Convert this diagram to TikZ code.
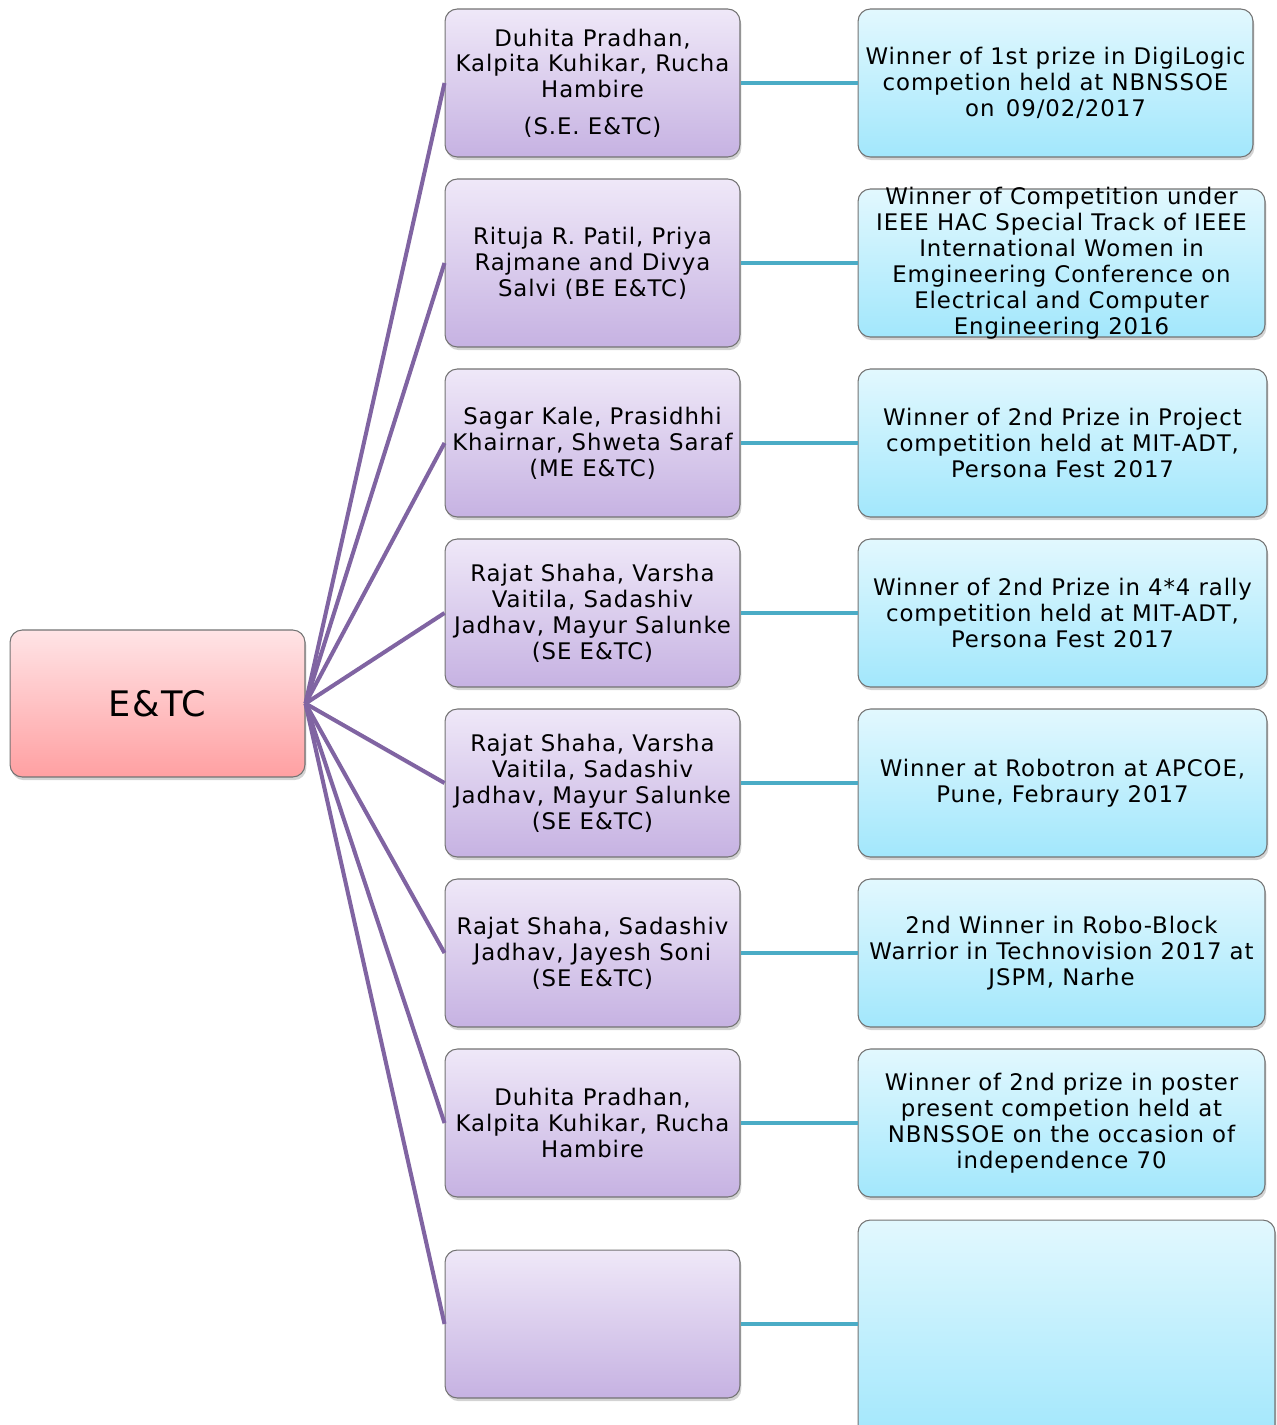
\documentclass[tikz,border=0pt]{standalone}
\usepackage{fontspec}
\setmainfont{DejaVu Sans}[LetterSpace=4]
\usetikzlibrary{positioning,shadows}
\definecolor{purpline}{HTML}{8064A2}
\definecolor{tealline}{HTML}{4BACC6}
\definecolor{whotop}{HTML}{EFE8F8}
\definecolor{whobot}{HTML}{C6B2E2}
\definecolor{wintop}{HTML}{E2F8FE}
\definecolor{winbot}{HTML}{A2E7FC}
\definecolor{roottop}{HTML}{FFE4E6}
\definecolor{rootbot}{HTML}{FFA0A2}
\tikzset{
  box/.style={draw=black!55, line width=0.6pt, rounded corners=7pt, align=center,
    inner sep=1pt, font=\fontsize{13}{14.75}\selectfont,
    drop shadow={opacity=0.35, shadow xshift=0.8pt, shadow yshift=-1.8pt}},
  who/.style={box, top color=whotop, bottom color=whobot, minimum width=5.9cm, minimum height=2.96cm},
  win/.style={box, top color=wintop, bottom color=winbot, minimum width=8.18cm, minimum height=2.96cm},
  purp/.style={purpline, line width=2.3pt},
  teal/.style={tealline, line width=2.8pt}
}
\newcommand{\who}[4][]{\node [who,#1] (#2) at (#3) {#4}}
\newcommand{\win}[4][]{\node [win,#1] (#2) at (#3) {#4}}

\begin{document}
\begin{tikzpicture}[x=0.02cm,y=-0.02cm]
\useasboundingbox (0,0) rectangle (1276,1425);

\node [box, top color=roottop, bottom color=rootbot, minimum width=5.9cm, minimum height=2.94cm,
  font=\fontsize{20}{24}\selectfont] (root) at (157.5,703.5) {E\&TC};

\who{m1}{592.5,83}{Duhita Pradhan,\\Kalpita Kuhikar, Rucha\\Hambire\\[6pt](S.E. E\&TC)};
\who[minimum height=3.36cm]{m2}{592.5,263}{Rituja R. Patil, Priya\\Rajmane and Divya\\Salvi (BE E\&TC)};
\who{m3}{592.5,443}{Sagar Kale, Prasidhhi\\Khairnar, Shweta Saraf\\(ME E\&TC)};
\who{m4}{592.5,613}{Rajat Shaha, Varsha\\Vaitila, Sadashiv\\Jadhav, Mayur Salunke\\(SE E\&TC)};
\who{m5}{592.5,783}{Rajat Shaha, Varsha\\Vaitila, Sadashiv\\Jadhav, Mayur Salunke\\(SE E\&TC)};
\who{m6}{592.5,953}{Rajat Shaha, Sadashiv\\Jadhav, Jayesh Soni\\(SE E\&TC)};
\who{m7}{592.5,1123}{Duhita Pradhan,\\Kalpita Kuhikar, Rucha\\Hambire};
\who{m8}{592.5,1324}{};

\win[minimum width=7.9cm]{r1}{1055.5,83}{Winner of 1st prize in DigiLogic\\competion held at NBNSSOE\\on\enspace 09/02/2017};
\win[minimum width=8.14cm, inner ysep=-3pt]{r2}{1061.5,263}{Winner of Competition under\\IEEE HAC Special Track of IEEE\\International Women in\\Emgineering Conference on\\Electrical and Computer\\Engineering 2016};
\win{r3}{1062.5,443}{Winner of 2nd Prize in Project\\competition held at MIT-ADT,\\Persona Fest 2017};
\win{r4}{1062.5,613}{Winner of 2nd Prize in 4*4 rally\\competition held at MIT-ADT,\\Persona Fest 2017};
\win{r5}{1062.5,783}{Winner at Robotron at APCOE,\\Pune, Febraury 2017};
\win[minimum width=8.14cm]{r6}{1061.5,953}{2nd Winner in Robo-Block\\Warrior in Technovision 2017 at\\JSPM, Narhe};
\win[minimum width=8.14cm]{r7}{1061.5,1123}{Winner of 2nd prize in poster\\present competion held at\\NBNSSOE on the occasion of\\independence 70};
\win[minimum width=8.34cm, minimum height=4.4cm]{r8}{1066.5,1330}{};

% connectors
\foreach \i in {1,...,8} {
  \draw [purp] (root.east) -- (m\i.west);
  \draw [teal] (m\i.east) -- (m\i.east -| r\i.west);
}
\end{tikzpicture}
\end{document}
